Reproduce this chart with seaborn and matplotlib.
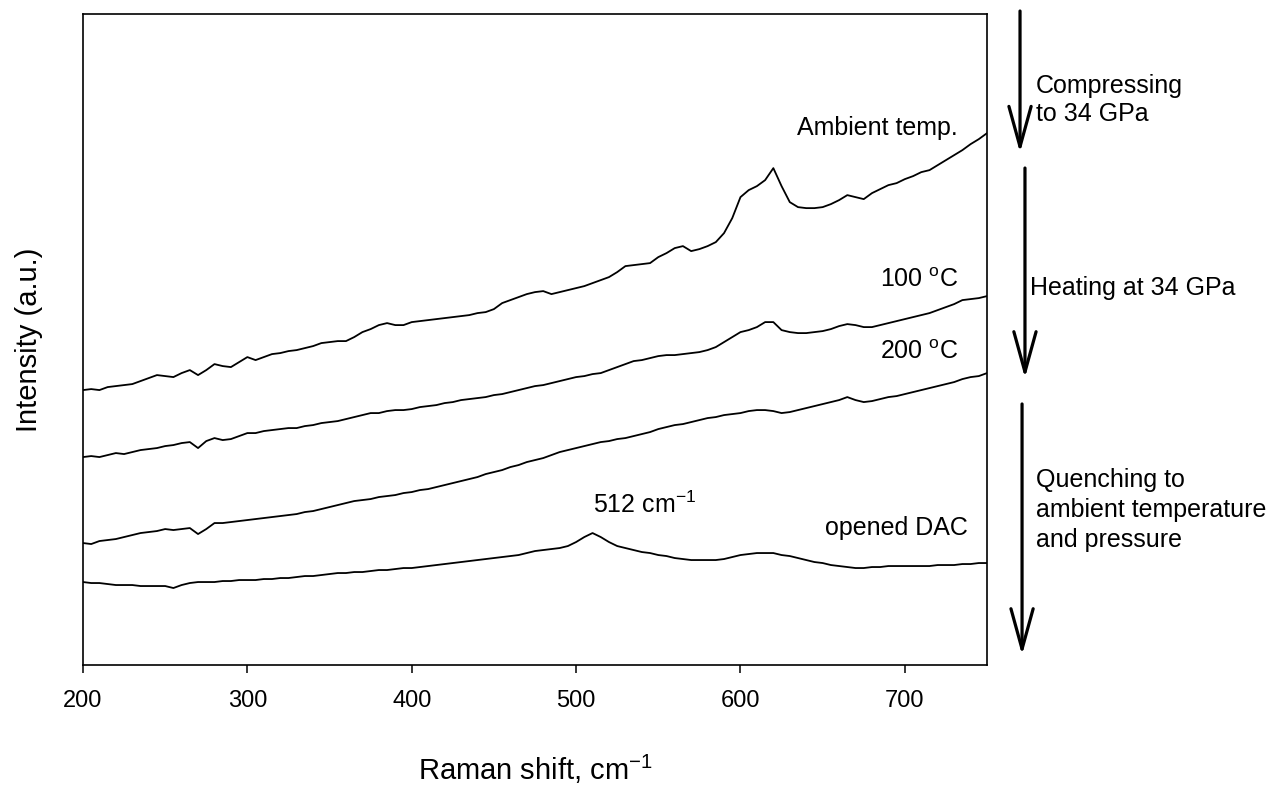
import numpy as np
import pandas as pd
import seaborn as sns
import matplotlib.pyplot as plt

sns.set_theme(style='white')
plt.rcParams['font.family'] = ['Liberation Sans', 'DejaVu Sans']
plt.rcParams['mathtext.default'] = 'regular'
plt.rcParams['mathtext.fontset'] = 'custom'
plt.rcParams['mathtext.rm'] = 'Liberation Sans'
plt.rcParams['text.color'] = 'black'
plt.rcParams['axes.labelcolor'] = 'black'
plt.rcParams['xtick.color'] = 'black'

# Raman shift grid, cm-1 (every 5 cm-1)
raman_shift = np.arange(200, 751, 5)

# intensities (a.u.), one value per 5 cm-1
ambient = [275, 276, 275, 278, 279, 280, 281, 284, 287, 290,
           289, 288, 292, 295, 290, 295, 301, 299, 298, 303,
           308, 305, 308, 311, 312, 314, 315, 317, 319, 322,
           323, 324, 324, 328, 333, 336, 340, 342, 340, 340,
           343, 344, 345, 346, 347, 348, 349, 350, 352, 353,
           356, 362, 365, 368, 371, 373, 374, 371, 373, 375,
           377, 379, 382, 385, 388, 393, 399, 400, 401, 402,
           408, 412, 417, 419, 414, 416, 419, 423, 432, 447,
           468, 475, 479, 485, 497, 479, 463, 458, 457, 457,
           458, 461, 465, 470, 468, 466, 472, 476, 480, 482,
           486, 489, 493, 495, 500, 505, 510, 515, 521, 526,
           532]
heated_100 = [208, 209, 208, 210, 212, 211, 213, 215, 216, 217,
              219, 220, 222, 223, 217, 224, 227, 225, 226, 229,
              232, 232, 234, 235, 236, 237, 237, 239, 240, 242,
              243, 244, 246, 248, 250, 252, 252, 254, 255, 255,
              256, 258, 259, 260, 262, 263, 265, 266, 267, 268,
              270, 271, 273, 275, 277, 279, 280, 282, 284, 286,
              288, 289, 291, 292, 295, 298, 301, 304, 305, 307,
              309, 310, 310, 311, 312, 313, 315, 318, 323, 328,
              333, 335, 338, 343, 343, 335, 333, 332, 332, 333,
              334, 336, 339, 341, 340, 338, 338, 340, 342, 344,
              346, 348, 350, 352, 355, 358, 361, 365, 366, 367,
              369]
heated_200 = [122, 121, 124, 125, 126, 128, 130, 132, 133, 134,
              136, 135, 136, 137, 131, 136, 142, 142, 143, 144,
              145, 146, 147, 148, 149, 150, 151, 153, 154, 156,
              158, 160, 162, 164, 165, 166, 168, 169, 170, 172,
              173, 175, 176, 178, 180, 182, 184, 186, 188, 191,
              193, 195, 198, 200, 203, 205, 207, 210, 213, 215,
              217, 219, 221, 223, 224, 226, 227, 229, 231, 233,
              236, 238, 240, 241, 243, 245, 247, 248, 250, 251,
              252, 254, 255, 255, 254, 252, 253, 255, 257, 259,
              261, 263, 265, 268, 265, 263, 264, 266, 268, 269,
              271, 273, 275, 277, 279, 281, 283, 286, 288, 289,
              292]
opened_dac = [83, 82, 82, 81, 80, 80, 80, 79, 79, 79,
              79, 77, 80, 82, 83, 83, 83, 84, 84, 85,
              85, 85, 86, 86, 87, 87, 88, 89, 89, 90,
              91, 92, 92, 93, 93, 94, 95, 95, 96, 97,
              97, 98, 99, 100, 101, 102, 103, 104, 105, 106,
              107, 108, 109, 110, 112, 114, 115, 116, 117, 119,
              123, 128, 132, 128, 123, 119, 117, 115, 113, 112,
              110, 109, 107, 106, 105, 105, 105, 105, 106, 108,
              110, 111, 112, 112, 112, 110, 109, 107, 105, 103,
              102, 100, 99, 98, 97, 97, 98, 98, 99, 99,
              99, 99, 99, 99, 100, 100, 100, 101, 101, 102,
              102]

samples = ['Ambient temp.', '100 C', '200 C', 'opened DAC']
spectra = [ambient, heated_100, heated_200, opened_dac]

frames = []
for name, vals in zip(samples, spectra):
    assert len(vals) == len(raman_shift)
    frames.append(pd.DataFrame({'shift': raman_shift, 'intensity': vals, 'sample': name}))
df = pd.concat(frames, ignore_index=True)

fig = plt.figure(figsize=(12.69, 7.87), dpi=100)
ax = fig.add_axes([0.0654, 0.155, 0.7124, 0.827])

sns.lineplot(data=df, x='shift', y='intensity', hue='sample',
             palette=['black'] * 4, linewidth=1.3, legend=False, ax=ax)

ax.set_xlim(200, 750)
ax.set_ylim(0, 651)
ax.set_xticks([200, 300, 400, 500, 600, 700])
ax.set_yticks([])
ax.tick_params(axis='x', direction='out', length=6, width=1.1,
               labelsize=17, pad=12, colors='black', bottom=True)
for sp in ax.spines.values():
    sp.set_color('black')
    sp.set_linewidth(1.2)

ax.set_xlabel(r'Raman shift, cm$^{-1}$', fontsize=21, va='center')
ax.xaxis.set_label_coords(0.5, -0.161)
ax.set_ylabel('Intensity (a.u.)', fontsize=21, va='center')
ax.yaxis.set_label_coords(-0.06, 0.5)

# curve labels
ax.text(683, 537, 'Ambient temp.', fontsize=18, ha='center', va='center')
ax.text(709, 385, r'100 $^{o}$C', fontsize=18, ha='center', va='center')
ax.text(709, 313, r'200 $^{o}$C', fontsize=18, ha='center', va='center')
ax.text(542, 160, r'512 cm$^{-1}$', fontsize=18, ha='center', va='center')
ax.text(695, 137, 'opened DAC', fontsize=18, ha='center', va='center')

# process arrows on the right
arrow_props = dict(arrowstyle='->,head_length=2.9,head_width=0.8', lw=2.3,
                   color='black', shrinkA=0, shrinkB=0, mutation_scale=10)
ax.annotate('', xy=(0.8038, 0.806), xytext=(0.8038, 0.986),
            xycoords='figure fraction', arrowprops=arrow_props, annotation_clip=False)
ax.annotate('', xy=(0.8077, 0.5197), xytext=(0.8077, 0.7865),
            xycoords='figure fraction', arrowprops=arrow_props, annotation_clip=False)
ax.annotate('', xy=(0.8054, 0.1677), xytext=(0.8054, 0.4867),
            xycoords='figure fraction', arrowprops=arrow_props, annotation_clip=False)

fig.text(0.8164, 0.873, 'Compressing\nto 34 GPa', fontsize=18, ha='left',
         va='center', linespacing=1.25)
fig.text(0.8117, 0.634, 'Heating at 34 GPa', fontsize=18, ha='left', va='center')
fig.text(0.8164, 0.352, 'Quenching to\nambient temperature\nand pressure',
         fontsize=18, ha='left', va='center', linespacing=1.32)

fig.savefig('out.png', dpi=100, facecolor='white')
